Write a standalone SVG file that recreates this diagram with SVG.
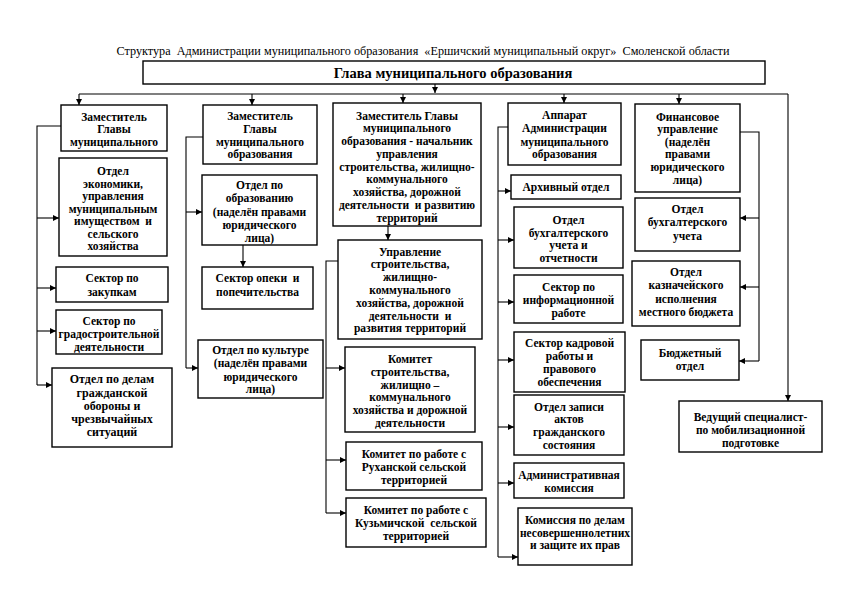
<svg xmlns="http://www.w3.org/2000/svg" width="850" height="601" viewBox="0 0 850 601">
<defs>
<marker id="ah" viewBox="0 0 8 8" refX="8" refY="4" markerWidth="7" markerHeight="6" orient="auto" markerUnits="userSpaceOnUse"><path d="M0,0 L8,4 L0,8 z" fill="#000"/></marker>
<style>
.b{fill:#fff;stroke:#000;stroke-width:1.4}
.t{font-family:"Liberation Serif","Times New Roman",serif;font-weight:bold;font-size:11.5px;text-anchor:middle;fill:#000;white-space:pre}
.c{fill:none;stroke:#000;stroke-width:1.1}
.a{fill:none;stroke:#000;stroke-width:1.1;marker-end:url(#ah)}
</style>
</defs>
<rect width="850" height="601" fill="#fff"/>
<text x="423" y="55" xml:space="preserve" style="font-family:'Liberation Serif','Times New Roman',serif;font-size:12.2px;text-anchor:middle;white-space:pre">Структура  Администрации муниципального образования  «Ершичский муниципальный округ»  Смоленской области</text>

<g id="glava"><rect class="b" x="143" y="61" width="622" height="23"/><text class="t" x="453" y="77.5" style="font-size:14.5px">Глава муниципального образования</text></g>

<g id="connectors">
<line class="a" x1="435" y1="84" x2="435" y2="93"/>
<line class="c" x1="79" y1="94" x2="788" y2="94"/>
<line class="a" x1="79" y1="94" x2="79" y2="105"/>
<line class="a" x1="252" y1="94" x2="252" y2="105"/>
<line class="a" x1="403" y1="94" x2="403" y2="103"/>
<line class="a" x1="564" y1="94" x2="564" y2="103"/>
<line class="a" x1="679" y1="94" x2="679" y2="104"/>
<line class="a" x1="788" y1="94" x2="788" y2="401"/>
<polyline class="c" points="61,126 37,126 37,385"/>
<line class="a" x1="37" y1="218" x2="59" y2="218"/>
<line class="a" x1="37" y1="288" x2="56" y2="288"/>
<line class="a" x1="37" y1="331" x2="56" y2="331"/>
<line class="a" x1="37" y1="385" x2="52" y2="385"/>
<polyline class="c" points="203,137 186,137 186,368"/>
<line class="a" x1="186" y1="212" x2="202" y2="212"/>
<line class="a" x1="186" y1="368" x2="198" y2="368"/>
<line class="a" x1="243" y1="245" x2="243" y2="267"/>
<line class="a" x1="388" y1="226" x2="388" y2="240"/>
<polyline class="c" points="338,261 326,261 326,513"/>
<line class="a" x1="326" y1="368" x2="345" y2="368"/>
<line class="a" x1="326" y1="460" x2="346" y2="460"/>
<line class="a" x1="326" y1="513" x2="346" y2="513"/>
<polyline class="c" points="508,127 498,127 498,557"/>
<line class="a" x1="498" y1="191" x2="511" y2="191"/>
<line class="a" x1="498" y1="240" x2="514" y2="240"/>
<line class="a" x1="498" y1="302" x2="514" y2="302"/>
<line class="a" x1="498" y1="360" x2="514" y2="360"/>
<line class="a" x1="498" y1="427" x2="514" y2="427"/>
<line class="a" x1="498" y1="483" x2="514" y2="483"/>
<line class="a" x1="498" y1="557" x2="518" y2="557"/>
<polyline class="c" points="740,132 759,132 759,361"/>
<line class="a" x1="759" y1="218" x2="740" y2="218"/>
<line class="a" x1="759" y1="287" x2="740" y2="287"/>
<line class="a" x1="759" y1="361" x2="739" y2="361"/>
</g>

<g id="zam1"><rect class="b" x="61" y="105" width="106" height="46"/><text class="t"><tspan x="114" y="120.5">Заместитель</tspan><tspan x="114" y="133">Главы</tspan><tspan x="114" y="145.5">муниципального</tspan></text></g>
<g id="ekonomika"><rect class="b" x="59" y="158" width="108" height="98"/><text class="t"><tspan x="113" y="175">Отдел</tspan><tspan x="113" y="187.5">экономики,</tspan><tspan x="113" y="200">управления</tspan><tspan x="113" y="212.5">муниципальным</tspan><tspan x="113" y="225">имуществом  и</tspan><tspan x="113" y="237.5">сельского</tspan><tspan x="113" y="250">хозяйства</tspan></text></g>
<g id="zakupki"><rect class="b" x="56" y="267" width="112" height="35"/><text class="t"><tspan x="112" y="282">Сектор по</tspan><tspan x="112" y="296">закупкам</tspan></text></g>
<g id="gradostr"><rect class="b" x="56" y="310" width="106" height="44"/><text class="t"><tspan x="109" y="325">Сектор по</tspan><tspan x="109" y="338">градостроительной</tspan><tspan x="109" y="351">деятельности</tspan></text></g>
<g id="go"><rect class="b" x="52" y="368" width="120" height="79"/><text class="t" style="font-size:12px"><tspan x="112" y="383">Отдел по делам</tspan><tspan x="112" y="396.5">гражданской</tspan><tspan x="112" y="409.5">обороны и</tspan><tspan x="112" y="423">чрезвычайных</tspan><tspan x="112" y="436">ситуаций</tspan></text></g>

<g id="zam2"><rect class="b" x="203" y="105" width="114" height="59"/><text class="t"><tspan x="260" y="120">Заместитель</tspan><tspan x="260" y="132.5">Главы</tspan><tspan x="260" y="145.5">муниципального</tspan><tspan x="260" y="158">образования</tspan></text></g>
<g id="obrazovanie"><rect class="b" x="202" y="175" width="115" height="70"/><text class="t"><tspan x="259.5" y="189">Отдел по</tspan><tspan x="259.5" y="202">образованию</tspan><tspan x="259.5" y="215.5">(наделён правами</tspan><tspan x="259.5" y="229">юридического</tspan><tspan x="259.5" y="241.5">лица)</tspan></text></g>
<g id="opeka"><rect class="b" x="202" y="267" width="111" height="42"/><text class="t"><tspan x="257.5" y="281.5">Сектор опеки  и</tspan><tspan x="257.5" y="296">попечительства</tspan></text></g>
<g id="kultura"><rect class="b" x="198" y="340" width="125" height="58"/><text class="t"><tspan x="260.5" y="353.5">Отдел по культуре</tspan><tspan x="260.5" y="367">(наделён правами</tspan><tspan x="260.5" y="380.5">юридического</tspan><tspan x="260.5" y="393">лица)</tspan></text></g>

<g id="zam3"><rect class="b" x="333" y="103" width="148" height="123"/><text class="t"><tspan x="407" y="119.5">Заместитель Главы</tspan><tspan x="407" y="132.3">муниципального</tspan><tspan x="407" y="145">образования - начальник</tspan><tspan x="407" y="157.8">управления</tspan><tspan x="407" y="170.5">строительства, жилищно-</tspan><tspan x="407" y="183.3">коммунального</tspan><tspan x="407" y="196">хозяйства, дорожной</tspan><tspan x="407" y="208.8">деятельности  и развитию</tspan><tspan x="407" y="221.5">территорий</tspan></text></g>
<g id="upravlenie"><rect class="b" x="338" y="240" width="144" height="99"/><text class="t"><tspan x="410" y="255.5">Управление</tspan><tspan x="410" y="268.3">строительства,</tspan><tspan x="410" y="281.1">жилищно-</tspan><tspan x="410" y="293.9">коммунального</tspan><tspan x="410" y="306.7">хозяйства, дорожной</tspan><tspan x="410" y="319.5">деятельности  и</tspan><tspan x="410" y="332.3">развития территорий</tspan></text></g>
<g id="komitet"><rect class="b" x="345" y="347" width="130" height="85"/><text class="t"><tspan x="410" y="363">Комитет</tspan><tspan x="410" y="375.8">строительства,</tspan><tspan x="410" y="388.6">жилищно –</tspan><tspan x="410" y="401.4">коммунального</tspan><tspan x="410" y="414.2">хозяйства и дорожной</tspan><tspan x="410" y="427">деятельности</tspan></text></g>
<g id="rukhan"><rect class="b" x="346" y="442" width="136" height="48"/><text class="t"><tspan x="414" y="457.5">Комитет по работе с</tspan><tspan x="414" y="470.5">Руханской сельской</tspan><tspan x="414" y="483.5">территорией</tspan></text></g>
<g id="kuzmich"><rect class="b" x="346" y="498" width="140" height="49"/><text class="t"><tspan x="416" y="514">Комитет по работе с</tspan><tspan x="416" y="527.3">Кузьмичской  сельской</tspan><tspan x="416" y="540">территорией</tspan></text></g>

<g id="apparat"><rect class="b" x="508" y="103" width="113" height="62"/><text class="t"><tspan x="564.5" y="119">Аппарат</tspan><tspan x="564.5" y="132.3">Администрации</tspan><tspan x="564.5" y="145.7">муниципального</tspan><tspan x="564.5" y="158.3">образования</tspan></text></g>
<g id="arkhiv"><rect class="b" x="511" y="175" width="110" height="24"/><text class="t" x="566" y="190.5">Архивный отдел</text></g>
<g id="bukh1"><rect class="b" x="514" y="207" width="109" height="61"/><text class="t"><tspan x="568.5" y="224">Отдел</tspan><tspan x="568.5" y="236.7">бухгалтерского</tspan><tspan x="568.5" y="249.3">учета и</tspan><tspan x="568.5" y="262">отчетности</tspan></text></g>
<g id="inform"><rect class="b" x="514" y="275" width="109" height="48"/><text class="t"><tspan x="568.5" y="290.5">Сектор по</tspan><tspan x="568.5" y="304">информационной</tspan><tspan x="568.5" y="316.5">работе</tspan></text></g>
<g id="kadry"><rect class="b" x="514" y="332" width="111" height="60"/><text class="t"><tspan x="569.5" y="346.5">Сектор кадровой</tspan><tspan x="569.5" y="359.5">работы и</tspan><tspan x="569.5" y="372.5">правового</tspan><tspan x="569.5" y="385.5">обеспечения</tspan></text></g>
<g id="zags"><rect class="b" x="514" y="395" width="110" height="60"/><text class="t"><tspan x="569" y="410.5">Отдел записи</tspan><tspan x="569" y="423.3">актов</tspan><tspan x="569" y="436.1">гражданского</tspan><tspan x="569" y="449">состояния</tspan></text></g>
<g id="admkom"><rect class="b" x="514" y="463" width="110" height="35"/><text class="t"><tspan x="569" y="478.5">Административная</tspan><tspan x="569" y="492">комиссия</tspan></text></g>
<g id="kdn"><rect class="b" x="518" y="508" width="114" height="57"/><text class="t"><tspan x="575" y="524">Комиссия по делам</tspan><tspan x="575" y="536.5">несовершеннолетних</tspan><tspan x="575" y="549">и защите их прав</tspan></text></g>

<g id="finupr"><rect class="b" x="635" y="104" width="105" height="88"/><text class="t"><tspan x="687.5" y="120.5">Финансовое</tspan><tspan x="687.5" y="133.1">управление</tspan><tspan x="687.5" y="145.7">(наделён</tspan><tspan x="687.5" y="158.3">правами</tspan><tspan x="687.5" y="170.9">юридического</tspan><tspan x="687.5" y="183.5">лица)</tspan></text></g>
<g id="bukh2"><rect class="b" x="635" y="198" width="105" height="53"/><text class="t"><tspan x="687.5" y="213">Отдел</tspan><tspan x="687.5" y="226.3">бухгалтерского</tspan><tspan x="687.5" y="239.7">учета</tspan></text></g>
<g id="kazn"><rect class="b" x="632" y="261" width="108" height="65"/><text class="t"><tspan x="686" y="275.7">Отдел</tspan><tspan x="686" y="289.3">казначейского</tspan><tspan x="686" y="303">исполнения</tspan><tspan x="686" y="316">местного бюджета</tspan></text></g>
<g id="budzhet"><rect class="b" x="641" y="340" width="98" height="40"/><text class="t"><tspan x="690" y="356.5">Бюджетный</tspan><tspan x="690" y="369.5">отдел</tspan></text></g>
<g id="mobil"><rect class="b" x="679" y="401" width="143" height="51"/><text class="t"><tspan x="750.5" y="420.5">Ведущий специалист-</tspan><tspan x="750.5" y="434">по мобилизационной</tspan><tspan x="750.5" y="446.5">подготовке</tspan></text></g>
</svg>
